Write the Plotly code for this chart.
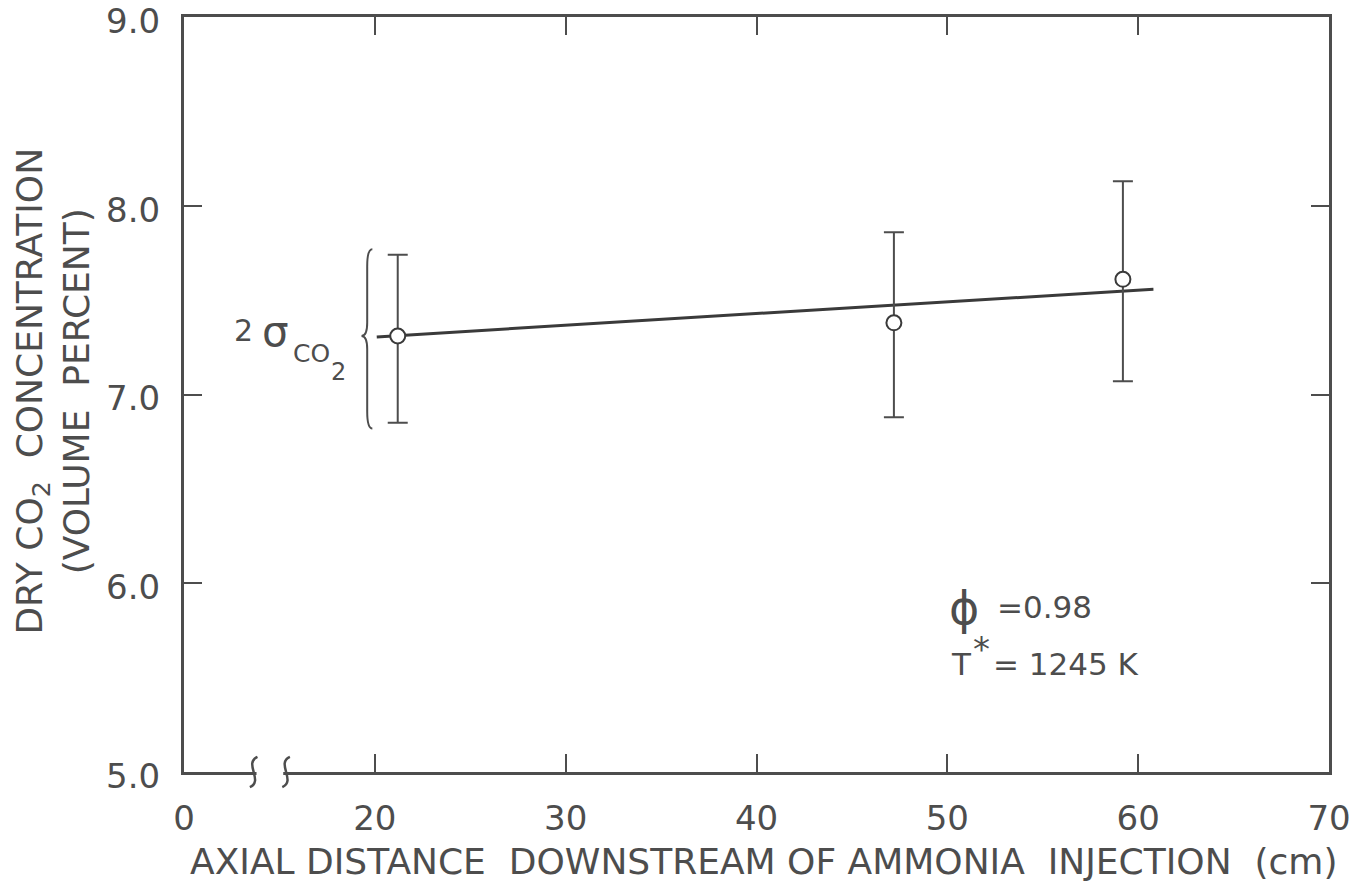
import plotly.graph_objects as go

# Measured CO2 concentration (dry, volume percent) vs. axial distance
distance_cm = [21.2, 47.2, 59.2]
co2_pct = [7.31, 7.38, 7.61]
err_up = [0.43, 0.48, 0.52]    # upper end of 2-sigma bar minus value
err_down = [0.46, 0.50, 0.54]  # value minus lower end of 2-sigma bar

# Least-squares fit line endpoints
fit_x = [20.1, 60.8]
fit_y = [7.305, 7.558]

# Broken x axis: left edge position 10 is labelled "0"
x_tickvals = [10, 20, 30, 40, 50, 60, 70]
x_ticktext = ["0", "20", "30", "40", "50", "60", "70"]
y_tickvals = [5, 6, 7, 8, 9]
y_ticktext = ["5.0", "6.0", "7.0", "8.0", "9.0"]

INK = "#4d4d4d"
FONT = "DejaVu Sans"
NB = "\u00a0"

fig = go.Figure()

fig.add_trace(go.Scatter(
    x=fit_x, y=fit_y, mode="lines",
    line=dict(color="#3a3a3a", width=3),
    showlegend=False, hoverinfo="skip",
))

fig.add_trace(go.Scatter(
    x=distance_cm, y=co2_pct, mode="markers",
    marker=dict(symbol="circle", size=15, color="white",
                line=dict(color="#3a3a3a", width=2)),
    error_y=dict(type="data", symmetric=False, array=err_up,
                 arrayminus=err_down, color=INK, thickness=2, width=10),
    showlegend=False,
))

# Curly brace marking the 2-sigma band of the first point
b_top = co2_pct[0] + err_up[0] + 0.03
b_bot = co2_pct[0] - err_down[0] - 0.03
b_mid = co2_pct[0]
xr, xm, xl = 19.87, 19.6, 19.3
brace = (f"M {xr},{b_top} Q {xm},{b_top} {xm},{b_top - 0.09} "
         f"L {xm},{b_mid + 0.07} Q {xm},{b_mid} {xl},{b_mid} "
         f"Q {xm},{b_mid} {xm},{b_mid - 0.07} "
         f"L {xm},{b_bot + 0.09} Q {xm},{b_bot} {xr},{b_bot}")
fig.add_shape(type="path", path=brace, xref="x", yref="y",
              line=dict(color=INK, width=2))

# Axis break on the x axis
gap_l, gap_r = 13.8, 15.2
fig.add_shape(type="rect", xref="x", yref="paper", x0=gap_l, x1=gap_r,
              y0=-0.006, y1=0.006, fillcolor="white", line_width=0,
              layer="above")
for cx in (gap_l - 0.15, gap_r + 0.15):
    d = 0.55
    squiggle = (f"M {cx + 0.2},0.02 C {cx - d},0.012 {cx + d},-0.012 "
                f"{cx - 0.2},-0.02")
    fig.add_shape(type="path", path=squiggle, xref="x", yref="paper",
                  line=dict(color=INK, width=2.5), layer="above")


def label(x, y, text, size, xref="x", yref="y", **kw):
    fig.add_annotation(x=x, y=y, xref=xref, yref=yref, text=text,
                       showarrow=False, xanchor=kw.pop("xanchor", "left"),
                       yanchor="middle",
                       font=dict(family=FONT, size=size, color=INK), **kw)


# 2 sigma_CO2 label beside the brace
label(12.5, 7.34, "2", 30)
label(14.0, 7.335, "σ", 42)
label(15.6, 7.215, "CO", 25)
label(17.6, 7.12, "2", 24)

# Operating conditions
label(50.0, 5.87, "ϕ", 46)
label(52.5, 5.875, "=0.98", 31)
label(50.1, 5.572, "T", 31)
label(51.25, 5.65, "*", 34)
label(52.3, 5.572, "=" + NB + "1245" + NB + "K", 31)

# Axis titles
label(0.5057, -0.118, NB.join(["AXIAL", "DISTANCE", "", "DOWNSTREAM",
                               "OF", "AMMONIA", "", "INJECTION", "",
                               "(cm)"]),
      36, xref="paper", yref="paper", xanchor="center")
label(-0.1145, 0.505, "DRY" + NB + "CO<sub>2</sub>" + NB * 2 +
      "CONCENTRATION<br>(VOLUME" + NB * 2 + "PERCENT)",
      36, xref="paper", yref="paper", xanchor="center", textangle=-90)

axis_common = dict(
    showline=True, linecolor=INK, linewidth=3, mirror="ticks",
    ticks="inside", ticklen=18, tickwidth=2, tickcolor=INK,
    showgrid=False, zeroline=False, ticklabeloverflow="allow",
    automargin=False,
    tickfont=dict(family=FONT, size=34, color=INK),
)

fig.update_xaxes(
    range=[10, 70], tickmode="array", tickvals=x_tickvals,
    ticktext=x_ticktext, ticklabelstandoff=14, **axis_common,
)
fig.update_yaxes(
    range=[5, 9], tickmode="array", tickvals=y_tickvals,
    ticktext=y_ticktext, ticklabelstandoff=14, ticklabelshift=4,
    **axis_common,
)

fig.update_layout(
    width=1358, height=886,
    margin=dict(l=184, r=29, t=17, b=114, autoexpand=False),
    plot_bgcolor="white", paper_bgcolor="white",
)

fig.write_html("out.html")
